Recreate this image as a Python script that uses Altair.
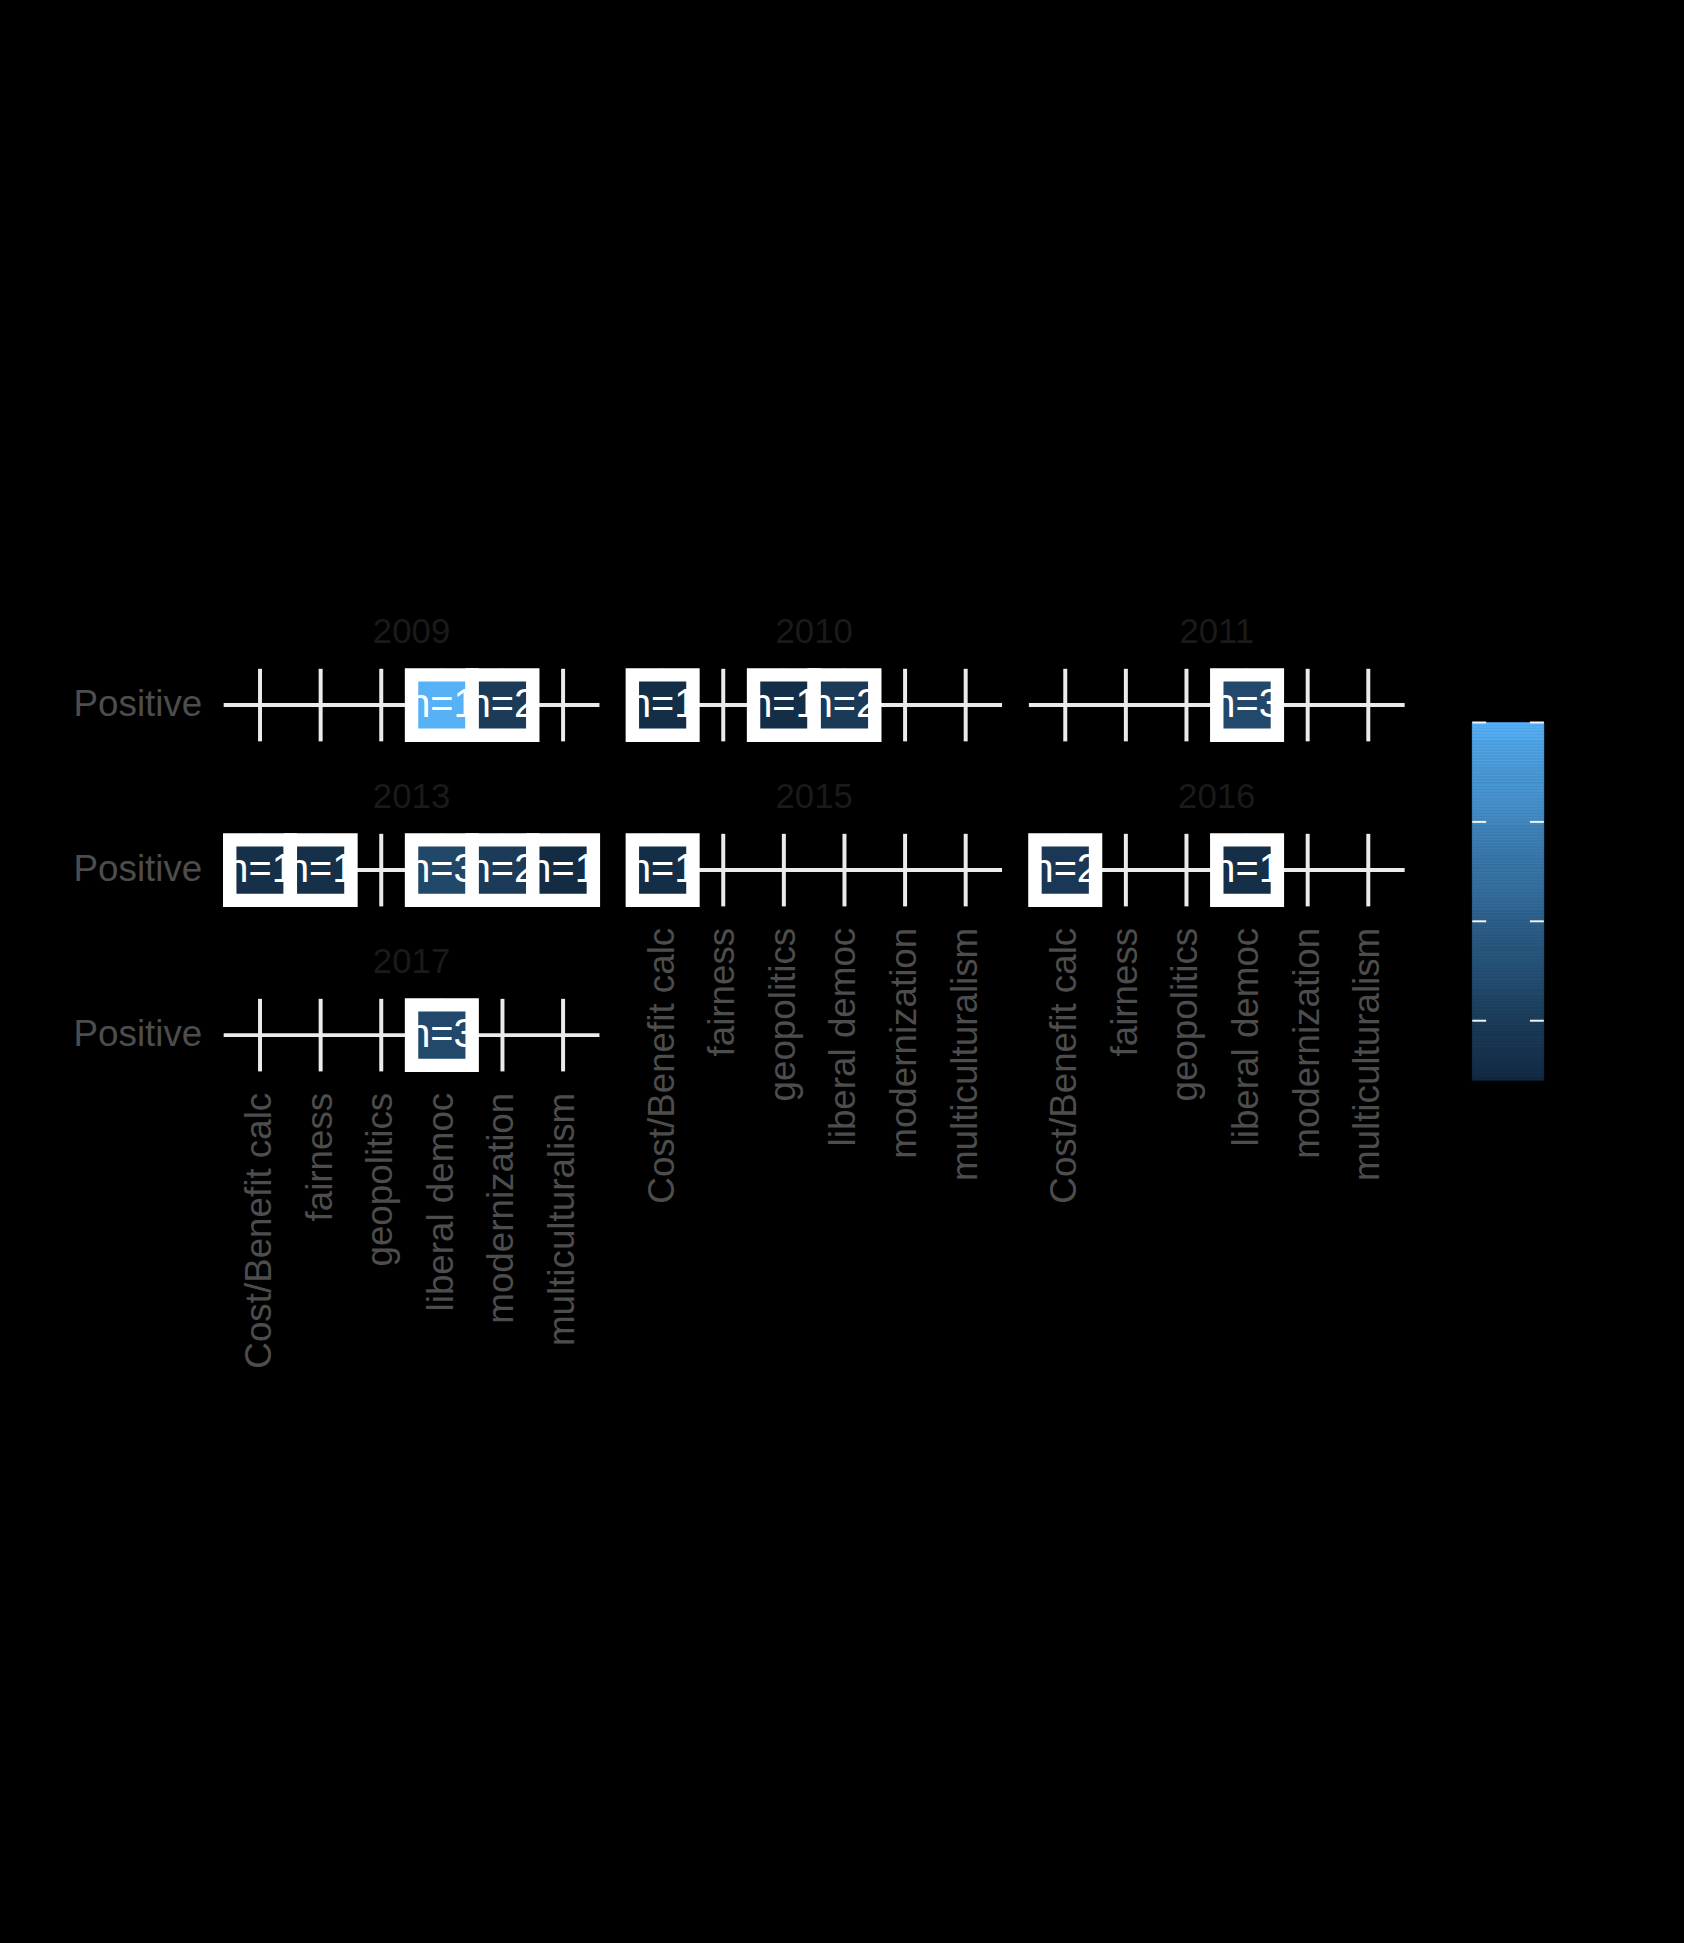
import altair as alt
import numpy as np
import pandas as pd

# ---- data ----
frames = ["Cost/Benefit calc", "fairness", "geopolitics", "liberal democ",
          "modernization", "multiculturalism"]
tones = ["Positive"]
panel_layout = [["2009", "2013", "2017"], ["2010", "2015"], ["2011", "2016"]]

tile_year = ["2009", "2009", "2010", "2010", "2010", "2011", "2013", "2013",
             "2013", "2013", "2013", "2015", "2016", "2016", "2017"]
tile_frame = ["liberal democ", "modernization", "Cost/Benefit calc", "geopolitics",
              "liberal democ", "liberal democ", "Cost/Benefit calc", "fairness",
              "liberal democ", "modernization", "multiculturalism", "Cost/Benefit calc",
              "Cost/Benefit calc", "liberal democ", "liberal democ"]
tile_n = [1, 2, 1, 1, 2, 3, 1, 1, 3, 2, 1, 1, 2, 1, 3]
tile_fill = [1.00, 0.22, 0.12, 0.12, 0.21, 0.32, 0.14, 0.14, 0.31, 0.22, 0.10,
             0.12, 0.20, 0.13, 0.32]
legend_breaks = [0.25, 0.50, 0.75, 1.00]

df = pd.DataFrame({"year": tile_year, "frame": tile_frame, "tone": tones[0],
                   "n": tile_n, "fill": tile_fill})
df["label"] = "n=" + df["n"].astype(str)
frame_df = pd.DataFrame({"frame": frames})
tone_df = pd.DataFrame({"tone": tones})

FONT = "Liberation Sans"
GRID = "#EBEBEB"
lo, hi = min(tile_fill), max(tile_fill)
color_scale = alt.Scale(domain=[lo, hi], range=["#132B43", "#56B1F7"], interpolate="lab")


def panel(year, show_y, show_x):
    x = alt.X("frame:N",
              scale=alt.Scale(domain=frames, paddingInner=0, paddingOuter=0.1),
              axis=alt.Axis(title=None, grid=False, ticks=False, domain=False,
                            labels=show_x, labelAngle=-90,
                            labelFontSize=37, labelColor="#4D4D4D", labelFont=FONT,
                            labelPadding=21, labelLimit=0))
    y = alt.Y("tone:N",
              scale=alt.Scale(domain=tones, paddingInner=0, paddingOuter=0.1),
              axis=alt.Axis(title=None, grid=False, ticks=False, domain=False,
                            labels=show_y,
                            labelFontSize=37, labelColor="#4D4D4D", labelFont=FONT,
                            labelPadding=22, labelLimit=0))
    vgrid = alt.Chart(frame_df).mark_rule(color=GRID, strokeWidth=4).encode(x=x)
    hgrid = alt.Chart(tone_df).mark_rule(color=GRID, strokeWidth=4).encode(y=y)
    base = alt.Chart(df).transform_filter(alt.datum.year == year)
    tiles = base.mark_rect(stroke="white", strokeWidth=13.5).encode(
        x=x, y=y, color=alt.Color("fill:Q", scale=color_scale, legend=None))
    labels = base.mark_text(color="white", fontSize=40, font=FONT).encode(
        x=x, y=y, text="label:N")
    return alt.layer(vgrid, hgrid, tiles, labels).properties(
        width=378, height=73,
        title=alt.TitleParams(year, fontSize=35, font=FONT, color="#1A1A1A",
                              fontWeight="normal", anchor="middle", offset=17))


cols = []
for ci, col in enumerate(panel_layout):
    cols.append(alt.vconcat(*[panel(yr, ci == 0, ri == len(col) - 1)
                              for ri, yr in enumerate(col)], spacing=37))
grid = alt.hconcat(*cols, spacing=23)

# colour bar legend (bar sits 54px below the top of the first panel row)
ramp = np.linspace(lo, hi, 241)
leg_df = pd.DataFrame({"v": ramp[:-1], "v2": ramp[1:]})
ys = alt.Scale(domain=[lo, hi], nice=False, zero=False, range=[414, 54])
bar = alt.Chart(leg_df).mark_rect(strokeWidth=0.6).encode(
    y=alt.Y("v:Q", scale=ys, axis=None), y2="v2",
    x=alt.value(0), x2=alt.value(72),
    color=alt.Color("v:Q", scale=color_scale, legend=None),
    stroke=alt.Stroke("v:Q", scale=color_scale, legend=None))
brk = pd.DataFrame({"b": legend_breaks})
tick_l = alt.Chart(brk).mark_rule(color="#F2F2F2", strokeWidth=2).encode(
    y=alt.Y("b:Q", scale=ys, axis=None), x=alt.value(0), x2=alt.value(14))
tick_r = alt.Chart(brk).mark_rule(color="#F2F2F2", strokeWidth=2).encode(
    y=alt.Y("b:Q", scale=ys, axis=None), x=alt.value(58), x2=alt.value(72))
legend = alt.layer(bar, tick_l, tick_r).properties(width=72, height=414)

chart = alt.hconcat(grid, legend, spacing=65).properties(
    padding={"left": 73, "top": 613, "right": 140, "bottom": 575}
).configure(background="black").configure_view(strokeWidth=0)

chart.save("out.html", embed_options={"renderer": "svg", "actions": False})
